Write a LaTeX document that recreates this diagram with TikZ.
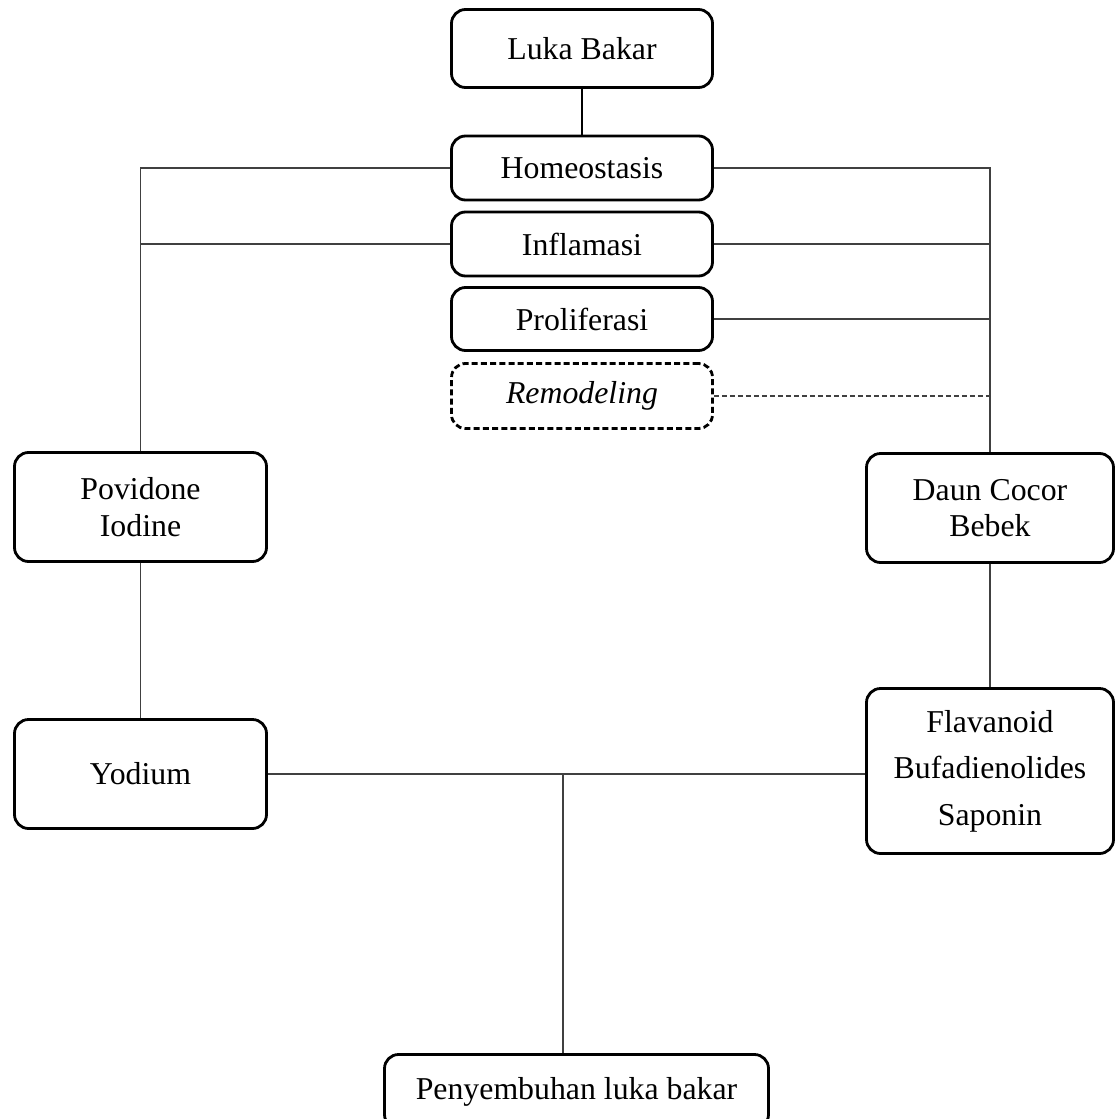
\documentclass[tikz,border=0pt]{standalone}
\usepackage{fontspec}
\setmainfont{Liberation Serif}
\usetikzlibrary{positioning}
\tikzset{
  wire/.style={line width=0.6pt, draw=black!75},
  dwire/.style={wire, dash pattern=on 2.5pt off 1.5pt},
  box/.style={draw, line width=1.4pt, rounded corners=7pt, inner sep=0pt, align=center,
    font=\fontsize{15.9}{18.3}\selectfont},
  dbox/.style={box, dash pattern=on 3pt off 1.6pt},
  stage/.style={box, minimum width=130.5pt, minimum height=32pt}
}
\begin{document}
\begin{tikzpicture}[x=0.5pt,y=-0.5pt]
  \useasboundingbox (0,0) rectangle (1115,1119);
  % stages of healing
  \node[stage, minimum height=39pt] (luka) at (582,48.5) {Luka Bakar};
  \node[stage] (home) at (582,168) {Homeostasis};
  \node[stage] (infl) at (582,244) {Inflamasi};
  \node[stage, minimum height=31.5pt] (prol) at (582,319) {Proliferasi};
  \node[stage, dbox, minimum height=32.5pt] (remo) at (582,396) {\textit{Remodeling}};
  % treatments
  \node[box, minimum width=126pt, minimum height=54.5pt] (pov) at (140.5,507) {Povidone\\Iodine};
  \node[box, minimum width=123.5pt, minimum height=54.5pt] (daun) at (990,508) {Daun Cocor\\Bebek};
  \node[box, minimum width=126pt, minimum height=54.5pt] (yod) at (140.5,774) {Yodium};
  \node[box, minimum width=123.5pt, minimum height=82.5pt, font=\fontsize{15.9}{23.2}\selectfont]
    (flav) at (990,771) {Flavanoid\\Bufadienolides\\Saponin};
  \node[box, minimum width=192pt, minimum height=37pt] (pen) at (576.5,1091.5) {Penyembuhan luka bakar};
  % connectors
  \draw[line width=1.2pt] (luka.south) -- (home.north);
  \draw[wire] (home.west) -- (home.west -| pov.north) -- (pov.north);
  \draw[wire] (infl.west) -- (infl.west -| pov.north);
  \draw[wire] (home.east) -- (home.east -| daun.north) -- (daun.north);
  \draw[wire] (infl.east) -- (infl.east -| daun.north);
  \draw[wire] (prol.east) -- (prol.east -| daun.north);
  \draw[dwire] (remo.east) -- (remo.east -| daun.north);
  \draw[wire] (pov.south) -- (yod.north);
  \draw[wire] (daun.south) -- (flav.north);
  \draw[wire] (yod.east) -- (yod.east -| flav.west);
  \coordinate (join) at (563,774);
  \draw[wire] (join) -- (join |- pen.north);
\end{tikzpicture}
\end{document}
